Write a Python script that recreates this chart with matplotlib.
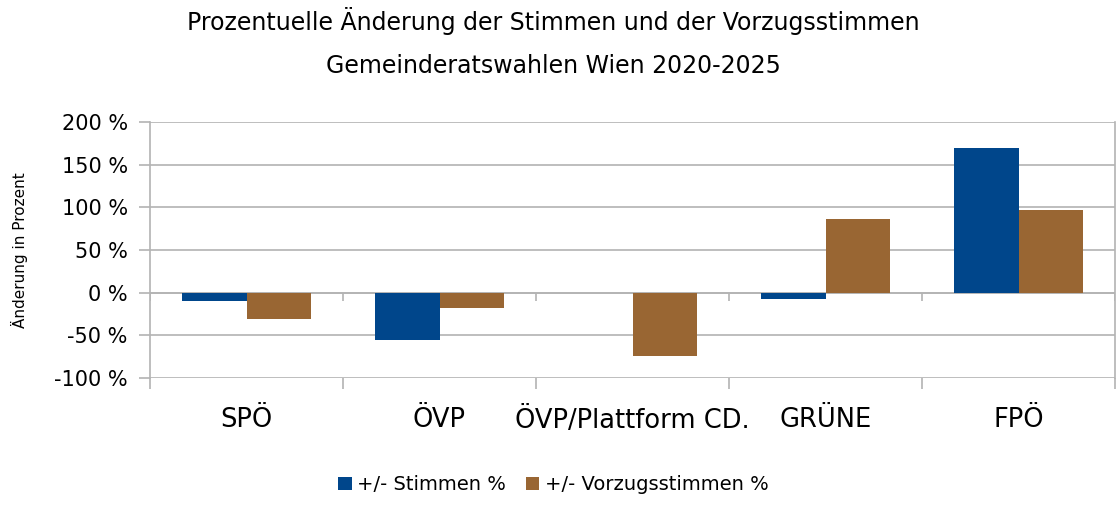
import matplotlib.pyplot as plt
import numpy as np

# -------------------------
# Data
# -------------------------
parteien = ['SPÖ', 'ÖVP', 'ÖVP/Plattform CD.', 'GRÜNE', 'FPÖ']
stimmen = [-10, -55, 0, -7.5, 170]
vorzugsstimmen = [-31, -18, -74, 86, 97]
y_ticks = [-100, -50, 0, 50, 100, 150, 200]

blue = '#00468b'
brown = '#996633'
grid_col = '#b3b3b3'

plt.rcParams['font.family'] = ['DejaVu Sans']

fig = plt.figure(figsize=(11.18, 5.05), dpi=100)
ax = fig.add_axes([150/1118, 1 - 378/505, 965/1118, 256/505])

x = np.arange(len(parteien))
w = 0.332
ax.bar(x - w/2, stimmen, width=w, color=blue, label='+/- Stimmen %', zorder=3)
ax.bar(x + w/2, vorzugsstimmen, width=w, color=brown, label='+/- Vorzugsstimmen %', zorder=3)

ax.set_xlim(-0.5, len(parteien) - 0.5)
ax.set_ylim(-100, 200)
ax.set_yticks(y_ticks)
ax.set_yticklabels([f'{v} %' for v in y_ticks], fontsize=15)
ax.yaxis.grid(True, color=grid_col, linewidth=1.2, zorder=0)
ax.axhline(0, color=grid_col, linewidth=1.2, zorder=2)

# category labels and boundary ticks
ax.set_xticks(x)
ax.set_xticklabels(parteien, fontsize=18.5)
ax.tick_params(axis='x', which='major', length=0, pad=21)
bounds = np.arange(len(parteien) + 1) - 0.5
ax.set_xticks(bounds, minor=True)
ax.tick_params(axis='x', which='minor', length=8, width=1.2, color=grid_col)
ax.tick_params(axis='y', length=8, width=1.2, color=grid_col, pad=8)
ax.vlines(bounds, -10, 0, color=grid_col, linewidth=1.2, zorder=2)

for s in ['top', 'bottom']:
    ax.spines[s].set_visible(False)
for s in ['left', 'right']:
    ax.spines[s].set_color(grid_col)
    ax.spines[s].set_linewidth(1.2)

ax.set_ylabel('Änderung in Prozent', fontsize=11)
ax.yaxis.set_label_coords(-0.126, 0.5)

fig.text(0.495, 0.958, 'Prozentuelle Änderung der Stimmen und der Vorzugsstimmen',
         ha='center', va='center', fontsize=17)
fig.text(0.495, 0.870, 'Gemeinderatswahlen Wien 2020-2025',
         ha='center', va='center', fontsize=17)

fig.legend(loc='center', bbox_to_anchor=(0.495, 0.04), ncol=2, frameon=False,
           fontsize=14, handlelength=0.7, handleheight=0.7, handletextpad=0.3,
           columnspacing=1.0)

plt.savefig('out.png', dpi=100)
plt.close()
